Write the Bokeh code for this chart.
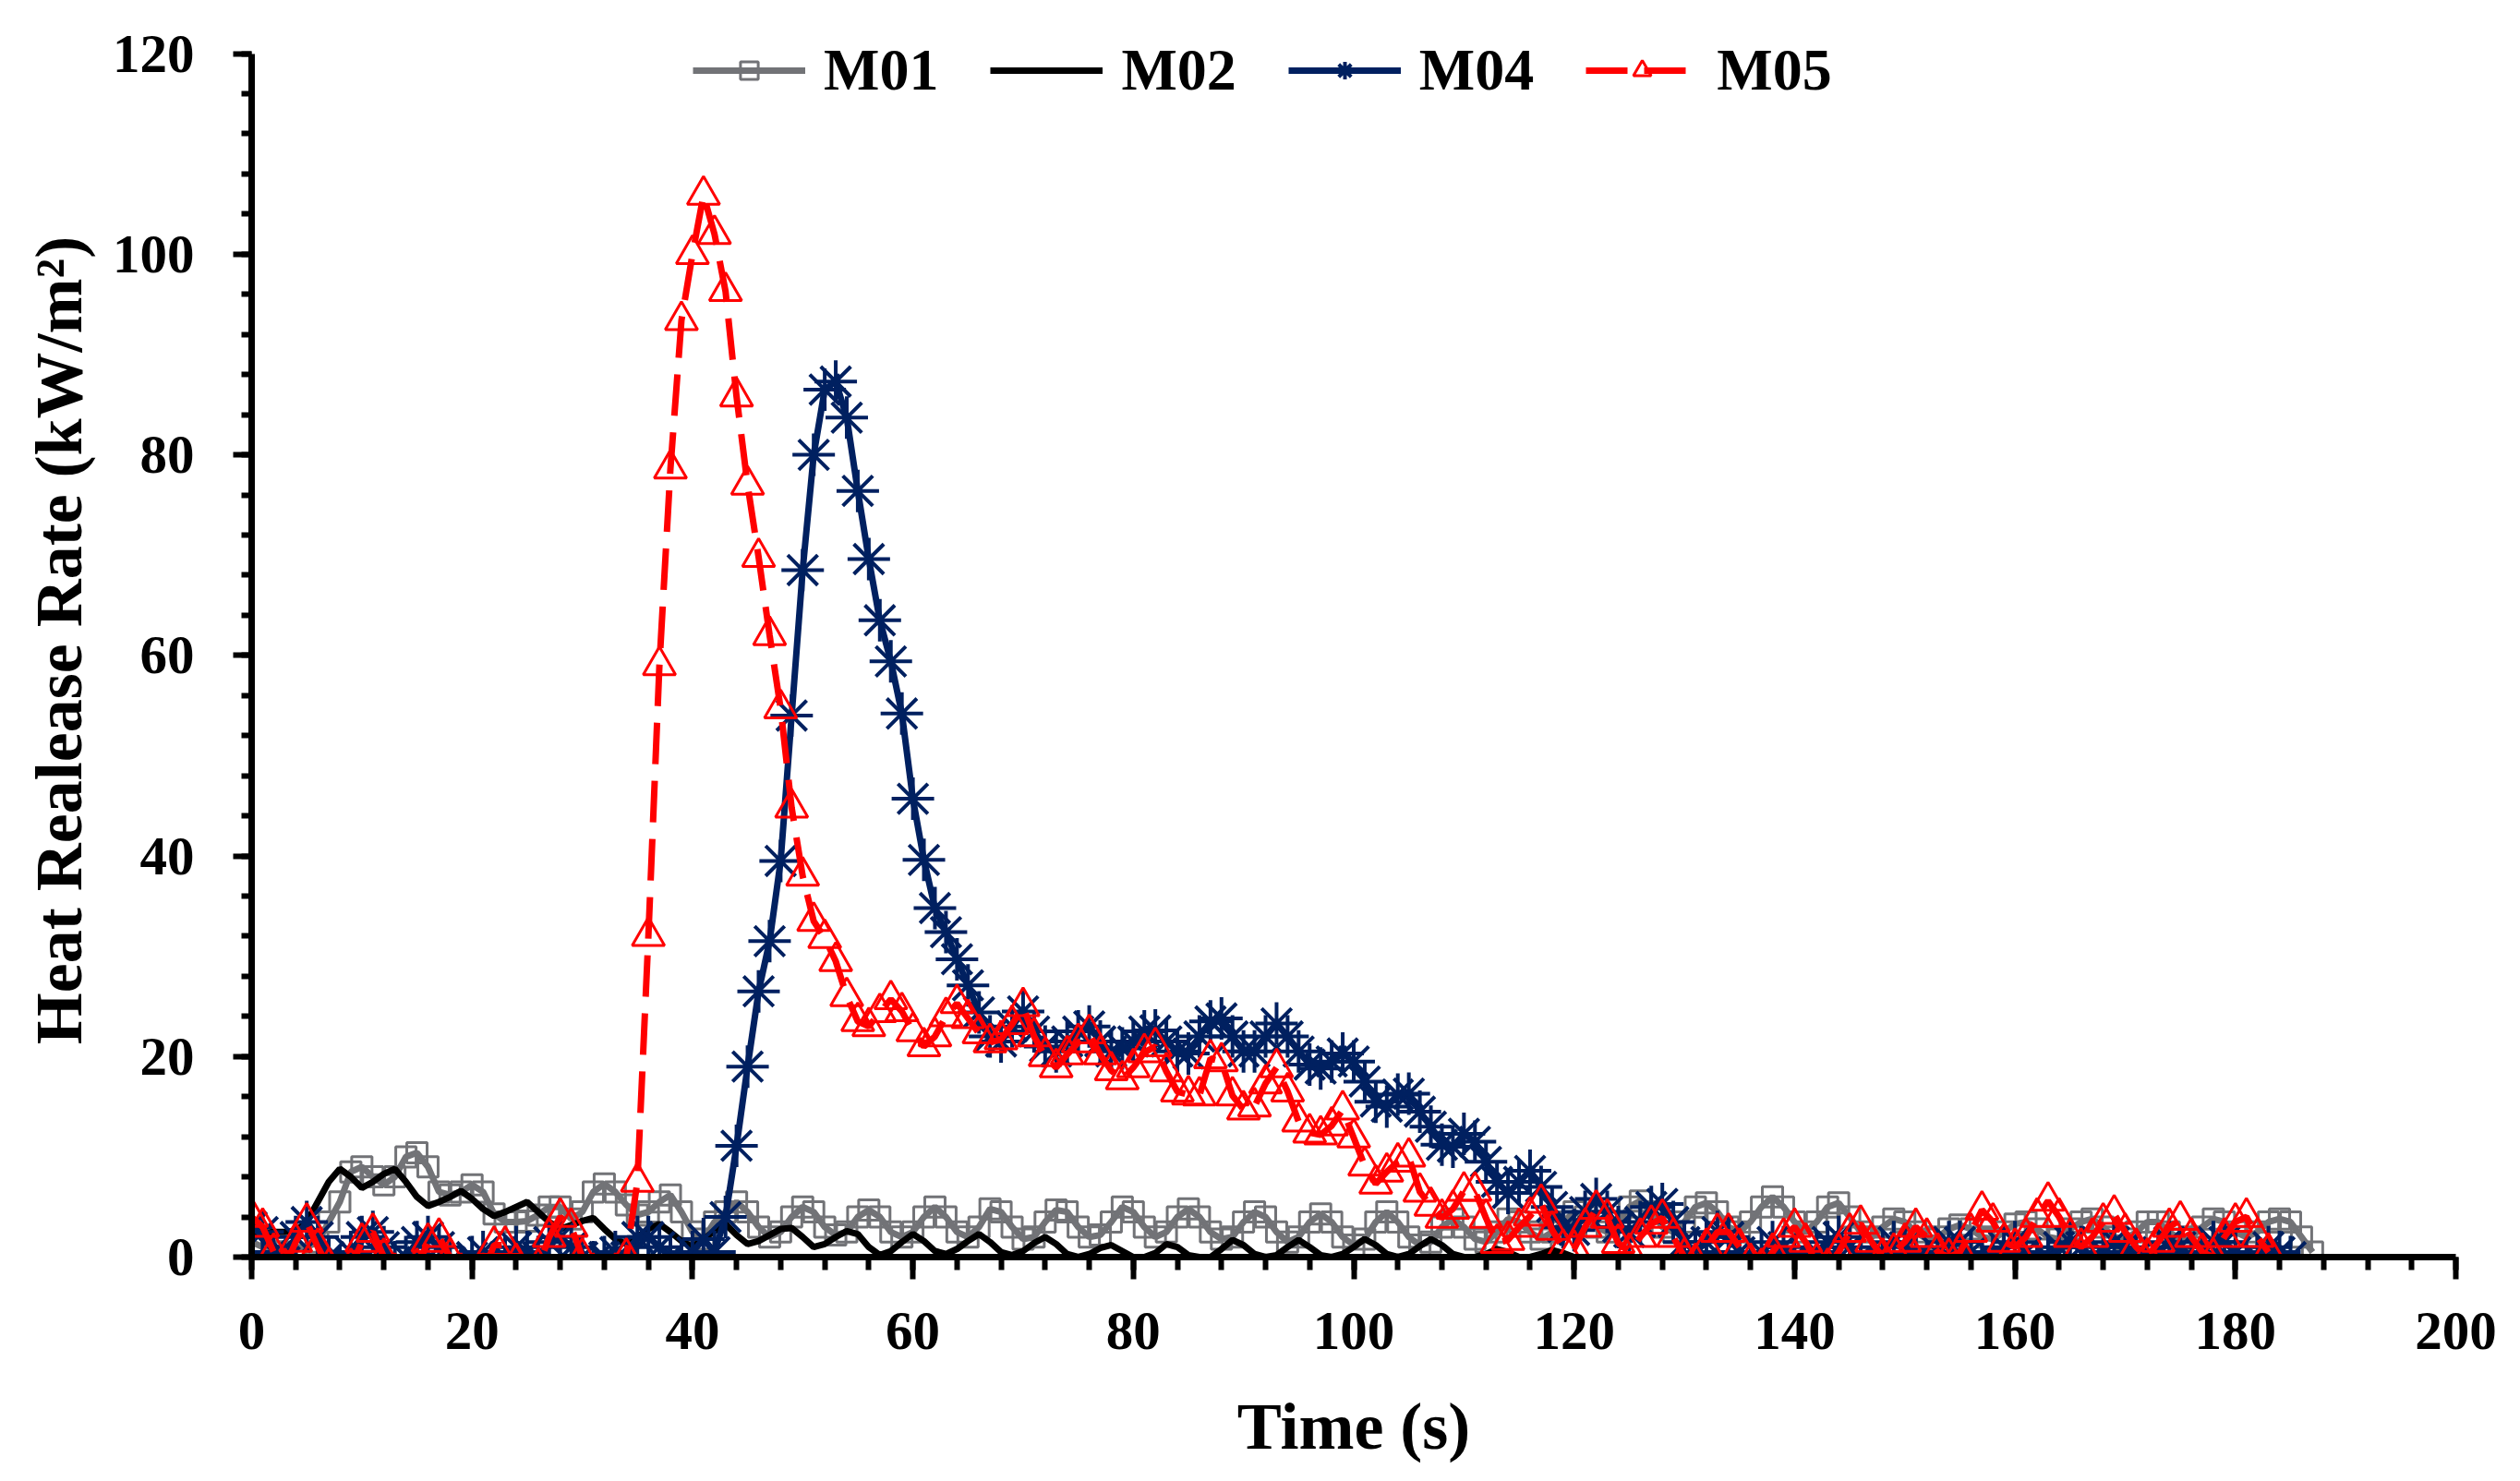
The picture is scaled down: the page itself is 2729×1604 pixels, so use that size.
from bokeh.plotting import figure
from bokeh.models import Range1d, SingleIntervalTicker, Legend, LegendItem, ColumnDataSource
from bokeh.embed import file_html
from bokeh.resources import INLINE

# ---------------- data ----------------
series_names = ["M01", "M02", "M04", "M05"]

m01_hrr = [
    1.5, 1.0, 0.5, 0.5, 1.0, 1.0, 1.5, 3.5, 5.5, 8.5,
    9.0, 8.0, 7.2, 8.0, 10.0, 10.4, 9.0, 6.5, 6.2, 6.5,
    7.2, 6.5, 4.3, 3.5, 3.5, 3.6, 4.2, 5.0, 5.0, 3.8,
    4.5, 6.5, 7.3, 6.5, 5.2, 4.2, 4.5, 5.5, 6.2, 4.5,
    2.5, 1.8, 3.5, 4.5, 5.5, 4.5, 3.0, 2.0, 2.5, 4.0,
    5.0, 4.5, 3.0, 2.2, 2.5, 4.0, 4.7, 4.0, 2.5, 2.0,
    2.5, 4.0, 5.0, 4.0, 2.5, 2.0, 3.0, 4.8, 4.5, 3.0,
    1.8, 2.0, 3.5, 4.7, 4.5, 3.0, 2.0, 2.2, 3.5, 5.0,
    4.5, 3.0, 2.0, 2.5, 4.0, 4.8, 4.0, 2.5, 1.8, 2.0,
    3.5, 4.5, 4.0, 2.5, 1.5, 2.0, 3.5, 4.3, 3.5, 2.0,
    1.2, 1.8, 3.5, 4.5, 3.5, 2.0, 1.2, 1.5, 3.0, 3.8,
    3.0, 1.8, 1.5, 2.5, 3.8, 3.5, 2.5, 1.8, 2.5, 3.5,
    4.5, 4.0, 3.0, 2.5, 3.5, 5.0, 5.6, 4.5, 3.0, 2.5,
    3.5, 5.0, 5.4, 4.5, 3.0, 2.5, 3.5, 5.0, 6.0, 5.0,
    3.5, 2.5, 3.5, 5.0, 5.4, 4.0, 2.5, 2.0, 3.0, 3.8,
    3.5, 2.5, 1.8, 2.0, 2.8, 3.2, 2.8, 2.0, 1.8, 2.5,
    3.3, 3.5, 2.8, 2.0, 1.8, 2.8, 3.5, 3.8, 3.0, 2.0,
    1.8, 2.5, 3.5, 3.5, 2.5, 1.8, 2.0, 3.0, 3.8, 3.5,
    2.5, 2.0, 2.5, 3.5, 3.8, 3.5, 2.0, 0.5,
]

m02_hrr = [
    2.3, 2.4, 2.5, 2.5, 2.6, 3.5, 5.5, 7.5, 8.8, 8.0,
    6.9, 7.5, 8.3, 8.8, 7.5, 6.0, 5.1, 5.5, 6.0, 6.6,
    5.8, 4.8, 4.1, 4.5, 5.0, 5.5, 4.5, 3.5, 2.8, 3.2,
    3.6, 3.9, 2.8, 1.8, 1.3, 2.0, 2.8, 3.3, 2.5, 1.6,
    1.0, 1.8, 2.6, 3.3, 2.2, 1.3, 1.6, 2.2, 2.8, 2.9,
    2.0, 1.0, 1.3, 2.0, 2.6, 2.3, 1.0, 0.2, 0.6, 1.5,
    2.3, 1.6, 0.6, 0.3, 0.8, 1.6, 2.3, 1.5, 0.5, 0.2,
    0.6, 1.4, 2.0, 1.3, 0.3, 0.0, 0.3, 0.9, 1.2, 0.6,
    0.0, 0.0, 0.4, 1.3, 1.0, 0.2, 0.0, 0.0, 0.8, 1.7,
    1.2, 0.3, 0.0, 0.2, 1.0, 1.7, 1.0, 0.2, 0.0, 0.3,
    1.0, 1.8, 1.2, 0.3, 0.0, 0.3, 1.1, 1.8, 1.2, 0.3,
    0.0, 0.0, 0.3, 0.8, 0.5, 0.0, 0.0, 0.3, 0.7, 0.4,
    0.0, 0.0, 0.0, 0.0, 0.0, 0.0, 0.0, 0.0, 0.0, 0.0,
    0.0, 0.0, 0.0, 0.0, 0.0, 0.0, 0.0, 0.0, 0.0, 0.0,
    0.0, 0.0, 0.0, 0.0, 0.0, 0.0, 0.0, 0.0, 0.0, 0.0,
    0.0, 0.0, 0.0, 0.0, 0.0, 0.0, 0.0, 0.0, 0.0, 0.0,
    0.0, 0.0, 0.0, 0.0, 0.0, 0.0, 0.0, 0.0, 0.0, 0.0,
    0.0, 0.0, 0.0, 0.0, 0.0, 0.0, 0.0, 0.0, 0.0, 0.0,
    0.0, 0.0, 0.0, 0.0, 0.0, 0.0,
]

m04_hrr = [
    3.0, 2.5, 0.5, -0.5, 2.0, 3.5, 2.0, 0.0, -1.0, 0.5,
    2.0, 2.5, 1.0, -0.5, 0.0, 1.5, 2.0, 1.0, -0.5, -1.0,
    0.0, 0.5, -0.5, 0.0, 1.0, 0.5, 0.0, 1.5, 2.0, 1.0,
    0.0, -0.5, 0.0, 0.5, 0.0, 2.0, 2.0, 1.0, 0.0, -0.5,
    0.5, 1.8, 0.5, 4.0, 11.1, 19.0, 26.5, 31.5, 39.5, 54.0,
    68.5, 80.0, 86.5, 87.3, 83.7, 76.4, 69.6, 63.5, 59.4, 54.2,
    45.7, 39.6, 34.8, 32.4, 29.7, 27.1, 24.4, 22.0, 21.5, 23.0,
    24.5, 22.5, 21.0, 20.5, 21.5, 22.5, 23.0, 21.5, 20.5, 20.8,
    21.5, 22.5, 22.6, 21.5, 20.5, 20.3, 22.0, 23.5, 23.8, 22.0,
    20.5, 20.5, 22.0, 23.3, 22.0, 20.5, 19.2, 18.8, 19.5, 20.3,
    19.5, 17.5, 15.5, 15.0, 16.2, 16.3, 14.5, 13.0, 11.2, 11.0,
    12.3, 11.5, 9.5, 7.5, 6.4, 7.5, 8.6, 7.0, 5.0, 3.0,
    2.7, 4.5, 5.8, 4.5, 3.0, 2.5, 3.5, 5.0, 5.3, 3.5,
    1.5, 0.5, 1.5, 2.5, 2.0, 0.5, -0.5, 0.5, 1.5, 1.0,
    0.0, -0.5, 0.5, 1.5, 2.0, 1.0, 0.0, -1.0, 0.5, 1.5,
    1.0, 0.0, -0.5, 0.5, 1.5, 1.5, 0.5, -0.5, 0.0, 1.0,
    1.5, 0.5, -0.5, 0.0, 1.0, 1.5, 1.0, 0.0, 0.5, 1.5,
    1.0, 0.0, -0.5, 0.5, 1.5, 1.0, 0.0, 0.5, 1.5, 1.5,
    0.5, -0.5, 0.0, 1.0, 0.5, 0.0,
]

m05_hrr = [
    4.0, 3.0, 0.5, -1.0, 1.5, 3.5, 1.0, -1.0, -2.0, -1.0,
    1.5, 2.5, 0.0, -1.5, -2.0, -1.0, 1.5, 2.0, 0.0, -1.5,
    -2.0, -1.5, 1.2, 1.2, -0.5, -2.0, -1.0, 2.0, 4.0, 3.0,
    0.0, -1.5, -2.0, -1.5, 0.0, 7.5, 32.0, 59.0, 78.6, 93.4,
    100.0, 105.9, 102.0, 96.3, 85.8, 77.0, 69.8, 62.0, 54.7, 44.8,
    38.0, 33.5, 31.8, 29.5, 26.0, 23.5, 23.0, 24.4, 25.7, 24.5,
    22.5, 21.0, 22.0, 24.0, 25.3, 23.8, 22.3, 21.4, 21.7, 23.2,
    25.0, 22.0, 20.0, 18.9, 20.2, 21.4, 22.3, 20.2, 18.6, 17.7,
    18.9, 20.4, 21.0, 18.5, 16.5, 16.2, 16.1, 19.8, 19.5, 16.1,
    14.7, 15.0, 17.3, 18.9, 16.5, 13.5, 12.4, 12.2, 13.1, 14.7,
    11.9, 9.1, 7.3, 8.5, 9.5, 10.0, 6.5, 5.1, 3.9, 4.8,
    6.6, 6.6, 3.9, 1.4, 1.7, 3.0, 4.1, 5.4, 2.7, 0.9,
    0.8, 3.0, 4.8, 3.9, 1.4, 0.5, 2.0, 3.3, 3.9, 2.0,
    0.0, -0.5, 1.0, 2.5, 2.5, 1.0, -0.5, -1.0, 0.5, 2.0,
    3.0, 1.5, -0.5, -1.0, 0.5, 2.5, 3.3, 1.5, 0.0, 0.5,
    1.5, 3.0, 2.0, 0.5, 0.0, 0.5, 2.5, 4.7, 3.5, 1.5,
    1.0, 2.0, 4.0, 5.6, 4.0, 2.0, 1.0, 2.0, 3.5, 4.3,
    2.5, 1.0, 0.0, 1.5, 3.0, 3.7, 2.0, 0.5, 0.0, 2.0,
    3.5, 4.0, 2.0, 0.5,
]

# sampling times (s), one reading per second
m01_time = list(range(len(m01_hrr)))
m02_time = list(range(len(m02_hrr)))
m04_time = list(range(len(m04_hrr)))
m05_time = list(range(len(m05_hrr)))

x_ticks_interval = 20
y_ticks_interval = 20

# ---------------- figure ----------------
FONT = "Liberation Serif"

p = figure(width=2713, height=1588, output_backend="svg", toolbar_location=None,
           x_range=Range1d(0, 200), y_range=Range1d(0, 123),
           min_border_left=272, min_border_right=54,
           min_border_top=25, min_border_bottom=227)
p.outline_line_color = None
p.grid.visible = False
p.background_fill_color = "white"

for ax, interval in ((p.xaxis[0], x_ticks_interval), (p.yaxis[0], y_ticks_interval)):
    ax.ticker = SingleIntervalTicker(interval=interval, num_minor_ticks=5)
    ax.axis_line_width = 7
    ax.axis_line_color = "black"
    ax.major_tick_line_width = 6
    ax.minor_tick_line_width = 6
    ax.major_tick_line_color = "black"
    ax.minor_tick_line_color = "black"
    ax.major_tick_in = 0
    ax.minor_tick_in = 0
    ax.major_label_text_font = FONT
    ax.major_label_text_font_style = "bold"
    ax.major_label_text_font_size = "59px"
    ax.major_label_text_color = "black"
    ax.axis_label_text_font = FONT
    ax.axis_label_text_font_style = "bold"
    ax.axis_label_text_font_size = "72px"
    ax.axis_label_text_color = "black"

p.yaxis.bounds = (0, 120)
p.xaxis.major_tick_out = 24
p.xaxis.minor_tick_out = 14
p.yaxis.major_tick_out = 20
p.yaxis.minor_tick_out = 11
p.xaxis.major_label_standoff = 36
p.yaxis.major_label_standoff = 42
p.xaxis.axis_label = "Time (s)"
p.yaxis.axis_label = "Heat Realease Rate (kW/m²)"
p.xaxis.axis_label_standoff = 41
p.yaxis.axis_label_standoff = 15

GREY = "#727377"
NAVY = "#002060"
RED = "#FF0000"

s1 = ColumnDataSource(dict(t=m01_time, v=m01_hrr))
s2 = ColumnDataSource(dict(t=m02_time, v=m02_hrr))
s4 = ColumnDataSource(dict(t=m04_time, v=m04_hrr))
s5 = ColumnDataSource(dict(t=m05_time, v=m05_hrr))

l1 = p.line("t", "v", source=s1, line_color=GREY, line_width=7)
k1 = p.scatter("t", "v", source=s1, marker="square", size=22, fill_color=None,
               line_color=GREY, line_width=3)
l2 = p.line("t", "v", source=s2, line_color="black", line_width=7)
l4 = p.line("t", "v", source=s4, line_color=NAVY, line_width=7)
k4 = p.scatter("t", "v", source=s4, marker="asterisk", size=46, fill_color=None,
               line_color=NAVY, line_width=4)
l5 = p.line("t", "v", source=s5, line_color=RED, line_width=7, line_dash="45 18")
k5 = p.scatter("t", "v", source=s5, marker="triangle", size=35, fill_color=None,
               line_color=RED, line_width=3)

legend = Legend(items=[
    LegendItem(label=series_names[0], renderers=[l1, k1]),
    LegendItem(label=series_names[1], renderers=[l2]),
    LegendItem(label=series_names[2], renderers=[l4, k4]),
    LegendItem(label=series_names[3], renderers=[l5, k5]),
], orientation="horizontal", location=(478, 1248))
legend.label_text_font = FONT
legend.label_text_font_style = "bold"
legend.label_text_font_size = "64px"
legend.label_text_color = "black"
legend.glyph_width = 122
legend.glyph_height = 48
legend.label_standoff = 20
legend.spacing = 56
legend.padding = 0
legend.margin = 0
legend.background_fill_alpha = 0
legend.border_line_color = None
p.add_layout(legend)

open("out.html", "w").write(file_html(p, INLINE))
